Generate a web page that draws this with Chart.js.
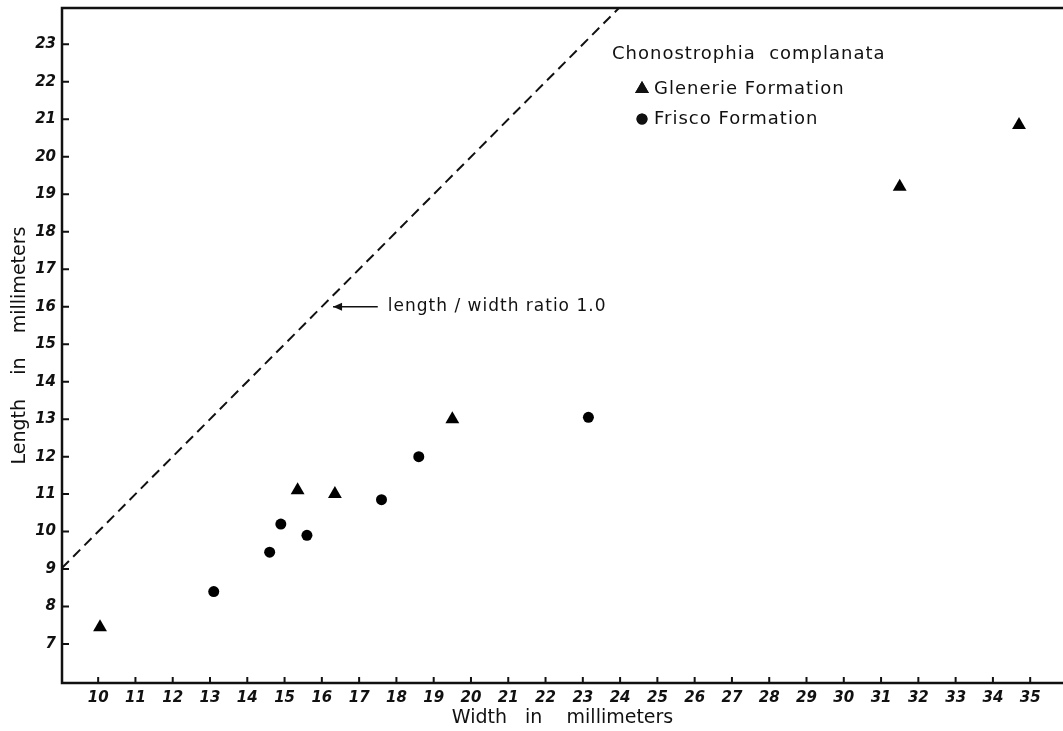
<!DOCTYPE html>
<html>
<head>
<meta charset="utf-8">
<script src="https://cdn.jsdelivr.net/npm/chart.js@4.4.1/dist/chart.umd.min.js"></script>
<style>
  html, body { margin: 0; padding: 0; background: #fff; overflow: hidden; }
  #wrap { width: 1063px; height: 731px; }
</style>
</head>
<body>
<div id="wrap"><canvas id="myChart"></canvas></div>
<script>
/* globals Chart */

// Chonostrophia complanata, width vs length (mm)
const glenerieWidth = [10.05, 15.35, 16.35, 19.5, 31.5, 34.7];
const glenerieLength = [7.45, 11.1, 11.0, 13.0, 19.2, 20.85];
const friscoWidth = [13.1, 14.6, 14.9, 15.6, 17.6, 18.6, 23.15];
const friscoLength = [8.4, 9.45, 10.2, 9.9, 10.85, 12.0, 13.05];
// length/width ratio 1.0 line (length = width)
const ratioWidth = [6, 24];
const ratioLength = [6, 24];

const xTicks = [10, 11, 12, 13, 14, 15, 16, 17, 18, 19, 20, 21, 22, 23, 24, 25,
  26, 27, 28, 29, 30, 31, 32, 33, 34, 35];
const yTicks = [7, 8, 9, 10, 11, 12, 13, 14, 15, 16, 17, 18, 19, 20, 21, 22, 23];

const FONT = "'DejaVu Sans', sans-serif";
const INK = "#111";

const toPoints = (xs, ys) => xs.map((x, i) => ({ x: x, y: ys[i] }));

// axes drawn like the paper figure: inward ticks, open right side, legend, arrow note
const paperAxes = {
  id: "paperAxes",
  afterDraw(chart) {
    const ctx = chart.ctx;
    const a = chart.chartArea;
    const xs = chart.scales.x;
    const ys = chart.scales.y;
    ctx.save();
    ctx.strokeStyle = INK;
    ctx.fillStyle = INK;

    // frame
    ctx.lineWidth = 2.5;
    ctx.beginPath();
    ctx.moveTo(a.right, a.top);
    ctx.lineTo(a.left, a.top);
    ctx.lineTo(a.left, a.bottom);
    ctx.lineTo(a.right, a.bottom);
    ctx.stroke();

    // ticks pointing in
    ctx.lineWidth = 2;
    ctx.beginPath();
    xTicks.forEach((v) => {
      const px = xs.getPixelForValue(v);
      ctx.moveTo(px, a.bottom);
      ctx.lineTo(px, a.bottom - 6);
    });
    yTicks.forEach((v) => {
      const py = ys.getPixelForValue(v);
      ctx.moveTo(a.left, py);
      ctx.lineTo(a.left + 7, py);
    });
    ctx.stroke();

    // arrow note on the ratio line
    const ay = ys.getPixelForValue(16);
    const tip = xs.getPixelForValue(16.3);
    const tail = xs.getPixelForValue(17.5);
    ctx.lineWidth = 1.5;
    ctx.beginPath();
    ctx.moveTo(tip, ay);
    ctx.lineTo(tail, ay);
    ctx.stroke();
    ctx.beginPath();
    ctx.moveTo(tip, ay);
    ctx.lineTo(tip + 9, ay - 4);
    ctx.lineTo(tip + 9, ay + 4);
    ctx.closePath();
    ctx.fill();
    ctx.letterSpacing = "1px";
    ctx.font = "17px " + FONT;
    ctx.textBaseline = "middle";
    ctx.textAlign = "left";
    ctx.fillText("length / width ratio 1.0", xs.getPixelForValue(17.77), ay);

    // legend
    const lx = a.left + 550;
    ctx.font = "18px " + FONT;
    ctx.fillText("Chonostrophia  complanata", lx, a.top + 46);
    chart.data.datasets.forEach((ds, i) => {
      if (!ds.inLegend) return;
      const ry = a.top + 81 + i * 30;
      Chart.helpers.drawPoint(ctx, {
        pointStyle: ds.pointStyle,
        radius: ds.pointRadius,
        rotation: 0,
        borderWidth: 0,
      }, lx + 30, ry);
      ctx.fill();
      ctx.fillText(ds.label, lx + 42, ry);
    });
    ctx.restore();
  },
};

const tickFont = { family: FONT, size: 15, style: "italic", weight: "bold" };
const titleFont = { family: FONT, size: 19 };

const myChart = new Chart(document.getElementById("myChart"), {
  type: "scatter",
  plugins: [paperAxes],
  data: {
    datasets: [
      {
        label: "Glenerie Formation",
        data: toPoints(glenerieWidth, glenerieLength),
        pointStyle: "triangle",
        pointRadius: 8,
        backgroundColor: "#000",
        borderWidth: 0,
        inLegend: true,
      },
      {
        label: "Frisco Formation",
        data: toPoints(friscoWidth, friscoLength),
        pointStyle: "circle",
        pointRadius: 5.5,
        backgroundColor: "#000",
        borderWidth: 0,
        inLegend: true,
      },
      {
        label: "length/width ratio 1.0",
        data: toPoints(ratioWidth, ratioLength),
        showLine: true,
        pointRadius: 0,
        borderColor: INK,
        borderWidth: 2,
        borderDash: [10, 6],
        fill: false,
      },
    ],
  },
  options: {
    events: [],
    animation: false,
    responsive: true,
    maintainAspectRatio: false,
    layout: { autoPadding: false, padding: { top: 8, right: 0, left: 0, bottom: 0 } },
    plugins: {
      legend: { display: false },
      tooltip: { enabled: false },
    },
    scales: {
      x: {
        type: "linear",
        min: 9.03,
        max: 35.88,
        afterBuildTicks: (s) => { s.ticks = xTicks.map((v) => ({ value: v })); },
        afterFit: (s) => {
          s.height = 48;
          s.paddingLeft = 0;
          s.paddingRight = 0;
        },
        grid: { display: false, drawTicks: false },
        border: { display: false },
        ticks: { padding: 6, color: INK, font: tickFont, autoSkip: false, maxRotation: 0 },
        title: {
          display: true,
          text: "Width   in    millimeters",
          color: INK,
          font: titleFont,
          padding: { top: 0, bottom: 2 },
        },
      },
      y: {
        type: "linear",
        min: 5.96,
        max: 23.97,
        afterBuildTicks: (s) => { s.ticks = yTicks.map((v) => ({ value: v })); },
        afterFit: (s) => {
          s.width = 62;
          s.paddingTop = 0;
          s.paddingBottom = 0;
        },
        grid: { display: false, drawTicks: false },
        border: { display: false },
        ticks: { padding: 6, color: INK, font: tickFont, autoSkip: false },
        title: {
          display: true,
          text: "Length    in    millimeters",
          color: INK,
          font: titleFont,
          padding: { top: 9, bottom: 0 },
        },
      },
    },
  },
});
</script>
</body>
</html>
